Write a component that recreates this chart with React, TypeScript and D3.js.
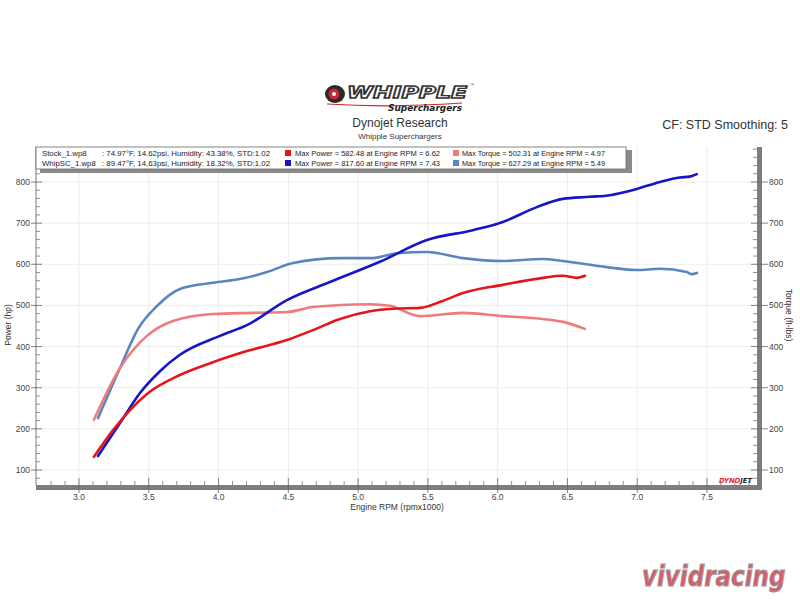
import React from "react";
import * as d3 from "d3";

// ---- data ----
const stockPowerRpm = [3.107, 3.244, 3.487, 3.723, 3.96, 4.203, 4.49, 4.676, 4.87, 5.085, 5.25, 5.443, 5.6, 5.751, 6.037, 6.324, 6.467, 6.567, 6.625];
const stockPowerHp = [132, 197, 285, 331, 362, 389, 416, 440, 467, 486, 492, 494, 510, 530, 550, 567, 572, 567, 572];

const whipPowerRpm = [3.136, 3.294, 3.437, 3.58, 3.723, 4.01, 4.203, 4.49, 4.798, 5.156, 5.493, 5.822, 6.037, 6.281, 6.467, 6.66, 6.804, 6.997, 7.162, 7.305, 7.377, 7.427];
const whipPowerHp = [134, 214, 287, 340, 380, 426, 452, 513, 557, 606, 659, 683, 703, 739, 759, 764, 768, 783, 800, 811, 813, 819];

const stockTorqueRpm = [3.107, 3.294, 3.487, 3.673, 3.96, 4.246, 4.49, 4.676, 4.87, 5.085, 5.228, 5.443, 5.751, 6.037, 6.324, 6.467, 6.625];
const stockTorqueFt = [222, 348, 426, 462, 479, 482, 484, 496, 501, 503, 499, 474, 482, 474, 467, 460, 443];

const whipTorqueRpm = [3.136, 3.294, 3.423, 3.566, 3.723, 3.96, 4.153, 4.347, 4.533, 4.87, 5.106, 5.278, 5.493, 5.751, 6.037, 6.324, 6.467, 6.782, 6.997, 7.162, 7.355, 7.391, 7.427];
const whipTorqueFt = [226, 348, 443, 501, 540, 555, 564, 581, 603, 615, 615, 627, 630, 615, 608, 613, 608, 593, 586, 589, 581, 576, 579];

const rpmTicks = [3.0, 3.5, 4.0, 4.5, 5.0, 5.5, 6.0, 6.5, 7.0, 7.5];
const valueTicks = [100, 200, 300, 400, 500, 600, 700, 800];

const legendRuns = ["Stock_1.wp8", "WhipSC_1.wp8"];
const legendConds = [
  ": 74.97°F, 14.62psi, Humidity: 43.38%, STD:1.02",
  ": 89.47°F, 14.63psi, Humidity: 18.32%, STD:1.02",
];
const legendPower = ["Max Power = 582.48 at Engine RPM = 6.62", "Max Power = 817.60 at Engine RPM = 7.43"];
const legendTorque = ["Max Torque = 502.31 at Engine RPM = 4.97", "Max Torque = 627.29 at Engine RPM = 5.49"];

const powerColors = ["#e3161c", "#1616c8"];
const torqueColors = ["#ef7b7b", "#5a86bf"];

const FONT = "'Liberation Sans', Arial, sans-serif";

export default function App() {
  const x = d3.scaleLinear().domain([3.0, 7.5]).range([79, 707]);
  const y = d3.scaleLinear().domain([100, 800]).range([470, 182]);

  const L = 36, R = 757, T = 147, B = 485;

  const line = d3
    .line<[number, number]>()
    .x((d) => x(d[0]))
    .y((d) => y(d[1]))
    .curve(d3.curveMonotoneX);

  const series = [
    { rpm: whipTorqueRpm, v: whipTorqueFt, c: torqueColors[1] },
    { rpm: stockTorqueRpm, v: stockTorqueFt, c: torqueColors[0] },
    { rpm: whipPowerRpm, v: whipPowerHp, c: powerColors[1] },
    { rpm: stockPowerRpm, v: stockPowerHp, c: powerColors[0] },
  ];

  const minorX = d3.range(28, 79).map((i) => i / 10).filter((v) => Math.abs(v * 2 - Math.round(v * 2)) > 1e-6);
  const minorY = d3.range(80, 881, 20).filter((v) => v % 100 !== 0);

  return (
    <svg
      width={800}
      height={600}
      style={{ position: "absolute", left: 0, top: 0, display: "block", background: "#fff" }}
      fontFamily={FONT}
    >
      <rect x={0} y={0} width={800} height={600} fill="#fff" />

      {/* Whipple logo */}
      <g>
        <ellipse cx={335} cy={94} rx={10} ry={9} fill="#2a2a2a" />
        <circle cx={334} cy={94} r={5.5} fill="#c9272c" />
        <circle cx={334} cy={94} r={2} fill="#fff" />
        <path d="M327,104 Q390,108 462,103" stroke="#c9272c" strokeWidth={1.2} fill="none" />
        <text
          x={347}
          y={98}
          fontSize={15}
          fontWeight={900}
          fontStyle="italic"
          fill="#fff"
          stroke="#333"
          strokeWidth={1.3}
          textLength={120}
          lengthAdjust="spacingAndGlyphs"
          fontFamily="'DejaVu Sans', sans-serif"
        >
          WHIPPLE
        </text>
        <text x={470} y={86} fontSize={4} fill="#333">™</text>
        <text
          x={462}
          y={111}
          fontSize={8.5}
          fontWeight={700}
          fontStyle="italic"
          fill="#222"
          textAnchor="end"
          textLength={74}
          lengthAdjust="spacingAndGlyphs"
          fontFamily="'DejaVu Sans', sans-serif"
        >
          Superchargers
        </text>
      </g>

      {/* titles */}
      <text x={400} y={127} fontSize={12} textAnchor="middle" fill="#333">Dynojet Research</text>
      <text x={400} y={139} fontSize={8} textAnchor="middle" fill="#333">Whipple Superchargers</text>
      <text x={788} y={129} fontSize={12.5} textAnchor="end" fill="#333">CF: STD Smoothing: 5</text>

      {/* gridlines */}
      {rpmTicks.map((t) => (
        <line key={"gx" + t} x1={x(t)} x2={x(t)} y1={T} y2={B} stroke="#ececec" strokeWidth={1} />
      ))}
      {valueTicks.map((t) => (
        <line key={"gy" + t} x1={L} x2={R} y1={y(t)} y2={y(t)} stroke="#ececec" strokeWidth={1} />
      ))}

      {/* frame */}
      <line x1={L} x2={L} y1={T} y2={B} stroke="#777" strokeWidth={1} />
      <rect x={L} y={B} width={R - L + 5} height={5} fill="#7d7d7d" />
      <rect x={R} y={T} width={5} height={B - T + 5} fill="#7d7d7d" />

      {/* bottom ticks */}
      {minorX.map((t) => (
        <line key={"mx" + t} x1={x(t)} x2={x(t)} y1={B - 4} y2={B} stroke="#777" strokeWidth={0.8} />
      ))}
      {rpmTicks.map((t) => (
        <g key={"tx" + t}>
          <line x1={x(t)} x2={x(t)} y1={B - 7} y2={B + 8} stroke="#666" strokeWidth={0.8} />
          <text x={x(t)} y={500} fontSize={8.5} textAnchor="middle" fill="#444">{t.toFixed(1)}</text>
        </g>
      ))}
      <text x={397} y={510} fontSize={8.5} textAnchor="middle" fill="#333">Engine RPM (rpmx1000)</text>

      {/* left ticks */}
      {minorY.map((t) => (
        <line key={"my" + t} x1={L} x2={L + 4} y1={y(t)} y2={y(t)} stroke="#777" strokeWidth={0.8} />
      ))}
      {valueTicks.map((t) => (
        <g key={"ty" + t}>
          <line x1={L - 5} x2={L + 6} y1={y(t)} y2={y(t)} stroke="#666" strokeWidth={0.8} />
          <text x={L - 6} y={y(t) + 3} fontSize={8.5} textAnchor="end" fill="#444">{t}</text>
        </g>
      ))}
      <text transform={`translate(11,325) rotate(-90)`} fontSize={8.5} textAnchor="middle" fill="#333">Power (hp)</text>

      {/* right ticks */}
      {minorY.map((t) => (
        <line key={"ry" + t} x1={R - 4} x2={R} y1={y(t)} y2={y(t)} stroke="#777" strokeWidth={0.8} />
      ))}
      {valueTicks.map((t) => (
        <g key={"rty" + t}>
          <line x1={R - 6} x2={R + 11} y1={y(t)} y2={y(t)} stroke="#666" strokeWidth={0.8} />
          <text x={R + 12} y={y(t) + 3} fontSize={8.5} textAnchor="start" fill="#444">{t}</text>
        </g>
      ))}
      <text transform={`translate(786,315) rotate(90)`} fontSize={8.5} textAnchor="middle" fill="#333">Torque (ft-lbs)</text>

      {/* curves */}
      {series.map((s, i) => (
        <path
          key={"s" + i}
          d={line(s.rpm.map((r, j) => [r, s.v[j]] as [number, number])) || ""}
          fill="none"
          stroke={s.c}
          strokeWidth={2.6}
          strokeLinejoin="round"
          strokeLinecap="round"
        />
      ))}

      {/* legend */}
      <rect x={L + 4} y={T + 3} width={592} height={23} fill="#8a8a8a" />
      <rect x={L} y={T} width={590} height={22} fill="#fff" stroke="#666" strokeWidth={0.8} />
      {[0, 1].map((i) => {
        const yy = T + 9 + i * 10;
        return (
          <g key={"lg" + i} fontSize={7.8} fill="#222">
            <text x={42} y={yy}>{legendRuns[i]}</text>
            <text x={102} y={yy} textLength={168} lengthAdjust="spacingAndGlyphs">{legendConds[i]}</text>
            <rect x={285} y={yy - 6} width={6} height={6} fill={powerColors[i]} />
            <text x={295} y={yy} textLength={145} lengthAdjust="spacingAndGlyphs">{legendPower[i]}</text>
            <rect x={453} y={yy - 6} width={6} height={6} fill={torqueColors[i]} />
            <text x={462} y={yy} textLength={143} lengthAdjust="spacingAndGlyphs">{legendTorque[i]}</text>
          </g>
        );
      })}

      {/* dynojet logo */}
      <text
        x={719}
        y={483}
        fontFamily="'DejaVu Sans', sans-serif"
        fontStyle="italic"
        fontWeight={900}
        fontSize={7}
        textLength={33}
        lengthAdjust="spacingAndGlyphs"
      >
        <tspan fill="#d8283a">DYNO</tspan>
        <tspan fill="#222">JET</tspan>
      </text>

      {/* watermark */}
      <text
        transform="translate(642,586) scale(1,1.25)"
        x={0}
        y={0}
        fontSize={23}
        fontWeight={900}
        fontStyle="italic"
        fill="#d85d6c"
        stroke="#9a9a9a"
        strokeWidth={0.8}
        fontFamily="'DejaVu Sans', sans-serif"
      >
        vividracing
      </text>
    </svg>
  );
}
